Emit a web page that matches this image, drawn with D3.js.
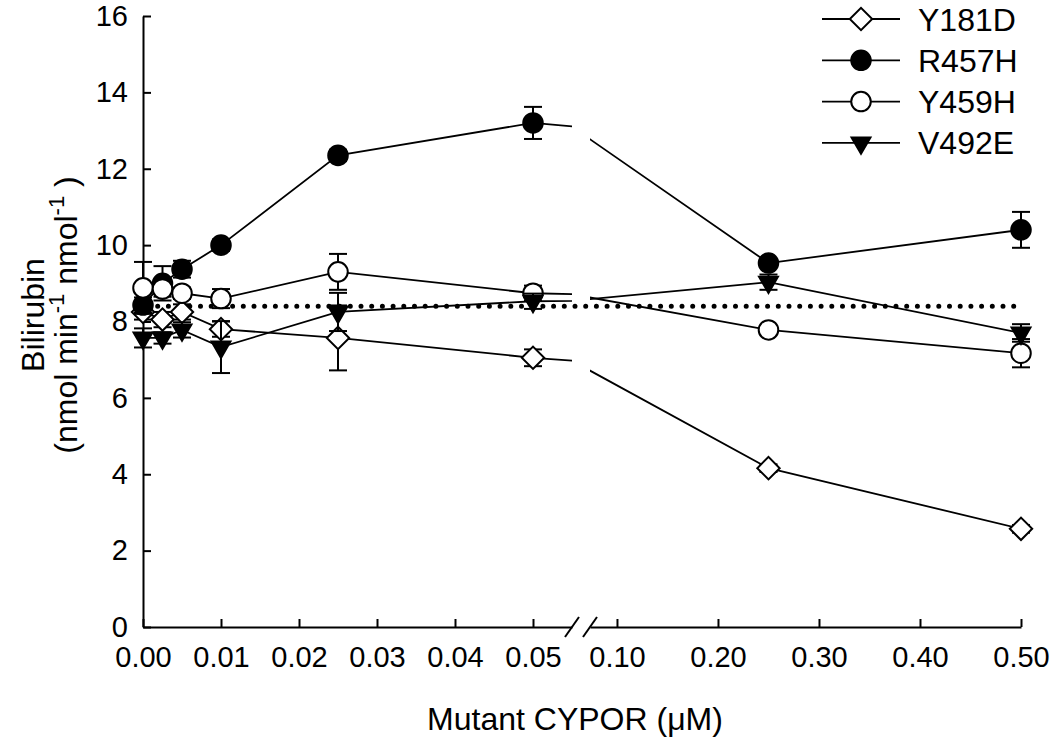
<!DOCTYPE html>
<html>
<head>
<meta charset="utf-8">
<script src="https://cdn.jsdelivr.net/npm/d3@7"></script>
<style>
  body { margin: 0; background: #fff; }
  svg { font-family: "Liberation Sans", Arial, sans-serif; }
</style>
</head>
<body>
<div id="chart"></div>
<script>
// CYPOR concentration (uM)
const conc = [0, 0.0025, 0.005, 0.01, 0.025, 0.05, 0.25, 0.5];

const y181d = [8.25, 8.05, 8.25, 7.8, 7.57, 7.05, 4.16, 2.57];
const y181dErr = [0.2, 0.2, 0.2, 0.2, 0.85, 0.22, 0.1, 0.1];
const r457h = [8.43, 9.0, 9.37, 10.0, 12.35, 13.2, 9.53, 10.4];
const r457hErr = [0.2, 0.45, 0.22, 0.15, 0.15, 0.42, 0.1, 0.47];
const y459h = [8.88, 8.85, 8.74, 8.6, 9.3, 8.74, 7.78, 7.17];
const y459hErr = [0.68, 0.2, 0.15, 0.25, 0.47, 0.2, 0.1, 0.37];
const v492e = [7.57, 7.57, 7.78, 7.33, 8.25, 8.53, 9.03, 7.7];
const v492eErr = [0.25, 0.15, 0.2, 0.68, 0.5, 0.2, 0.2, 0.23];

const controlLevel = 8.4; // dotted line

const leftTicks = [0, 0.01, 0.02, 0.03, 0.04, 0.05];
const rightTicks = [0.1, 0.2, 0.3, 0.4, 0.5];
const yTicks = [0, 2, 4, 6, 8, 10, 12, 14, 16];

const series = [
  { name: 'Y181D', vals: y181d, err: y181dErr, sym: 'diamond', fill: '#fff' },
  { name: 'R457H', vals: r457h, err: r457hErr, sym: 'circle', fill: '#000' },
  { name: 'Y459H', vals: y459h, err: y459hErr, sym: 'circle', fill: '#fff' },
  { name: 'V492E', vals: v492e, err: v492eErr, sym: 'triangle', fill: '#000' }
];

const width = 1050, height = 738;
const svg = d3.select('#chart').append('svg')
  .attr('width', width)
  .attr('height', height);

const y = d3.scaleLinear().domain([0, 16]).range([627, 16]);
const xLeft = d3.scaleLinear().domain([0, 0.055]).range([143, 572]);
const xRight = d3.scaleLinear().domain([0.0733, 0.5]).range([590, 1021]);

// two pieces of the broken x axis, each gets its own clip
const segments = [
  { id: 'clipL', x: xLeft, clipX: 0, clipW: 572 },
  { id: 'clipR', x: xRight, clipX: 590, clipW: width - 590 }
];

const defs = svg.append('defs');
segments.forEach(s => {
  defs.append('clipPath').attr('id', s.id)
    .append('rect')
    .attr('x', s.clipX).attr('y', 0)
    .attr('width', s.clipW).attr('height', height);
});

// axes
const yAxis = svg.append('g')
  .attr('transform', `translate(${xLeft(0)},0)`)
  .call(d3.axisLeft(y).tickValues(yTicks).tickSize(-8).tickSizeOuter(0).tickPadding(15));

const xAxisL = svg.append('g')
  .attr('transform', `translate(0,${y(0)})`)
  .call(d3.axisBottom(xLeft).tickValues(leftTicks).tickFormat(d3.format('.2f'))
    .tickSize(-8).tickSizeOuter(0).tickPadding(19));

const xAxisR = svg.append('g')
  .attr('transform', `translate(0,${y(0)})`)
  .call(d3.axisBottom(xRight).tickValues(rightTicks).tickFormat(d3.format('.2f'))
    .tickSize(-8).tickSizeOuter(0).tickPadding(19));

[yAxis, xAxisL, xAxisR].forEach(g => {
  g.selectAll('path, line').attr('stroke', '#000').attr('stroke-width', 2);
  g.selectAll('text').attr('font-size', 29).attr('fill', '#000')
    .attr('font-family', '"Liberation Sans", Arial, sans-serif');
});

// break marks
[xLeft.range()[1], xRight.range()[0]].forEach(bx => {
  svg.append('line')
    .attr('x1', bx - 7).attr('y1', y(0) + 10)
    .attr('x2', bx + 7).attr('y2', y(0) - 10)
    .attr('stroke', '#000').attr('stroke-width', 2);
});

// dotted control line
svg.append('line')
  .attr('x1', xLeft(0) + 4).attr('x2', xRight(0.5))
  .attr('y1', y(controlLevel)).attr('y2', y(controlLevel))
  .attr('stroke', '#000')
  .attr('stroke-width', 5)
  .attr('stroke-linecap', 'round')
  .attr('stroke-dasharray', '0,10.7');

const symbolPath = (sym) => {
  if (sym === 'circle') return d3.symbol(d3.symbolCircle, 300)();
  if (sym === 'diamond') return d3.symbol(d3.symbolSquare, 250)();
  return d3.symbol(d3.symbolTriangle, 155)();
};
const symbolRotate = (sym) => sym === 'diamond' ? 45 : (sym === 'triangle' ? 180 : 0);

series.forEach(s => {
  const pts = conc.map((c, i) => ({ c, v: s.vals[i], e: s.err[i] }));
  segments.forEach(seg => {
    const g = svg.append('g').attr('clip-path', `url(#${seg.id})`);
    const line = d3.line().x(d => seg.x(d.c)).y(d => y(d.v));

    g.append('path')
      .datum(pts)
      .attr('d', line)
      .attr('fill', 'none')
      .attr('stroke', '#000')
      .attr('stroke-width', 1.8);

    const eb = g.selectAll('.eb').data(pts).enter().append('g');
    eb.append('line')
      .attr('x1', d => seg.x(d.c)).attr('x2', d => seg.x(d.c))
      .attr('y1', d => y(d.v - d.e)).attr('y2', d => y(d.v + d.e))
      .attr('stroke', '#000').attr('stroke-width', 2);
    [-1, 1].forEach(sign => {
      eb.append('line')
        .attr('x1', d => seg.x(d.c) - 9).attr('x2', d => seg.x(d.c) + 9)
        .attr('y1', d => y(d.v + sign * d.e)).attr('y2', d => y(d.v + sign * d.e))
        .attr('stroke', '#000').attr('stroke-width', 2);
    });

    g.selectAll('.pt').data(pts).enter().append('path')
      .attr('d', symbolPath(s.sym))
      .attr('transform', d => `translate(${seg.x(d.c)},${y(d.v)}) rotate(${symbolRotate(s.sym)})`)
      .attr('fill', s.fill)
      .attr('stroke', '#000')
      .attr('stroke-width', 2);
  });
});

// legend
const legend = svg.append('g');
series.forEach((s, i) => {
  const ly = 19 + i * 41.3;
  legend.append('line')
    .attr('x1', 822).attr('x2', 900).attr('y1', ly).attr('y2', ly)
    .attr('stroke', '#000').attr('stroke-width', 1.8);
  legend.append('path')
    .attr('d', symbolPath(s.sym))
    .attr('transform', `translate(861,${ly}) rotate(${symbolRotate(s.sym)})`)
    .attr('fill', s.fill)
    .attr('stroke', '#000')
    .attr('stroke-width', 2);
  legend.append('text')
    .attr('x', 918).attr('y', ly).attr('dy', '0.36em')
    .attr('font-size', 32)
    .text(s.name);
});

// axis titles
svg.append('text')
  .attr('x', 575).attr('y', 730)
  .attr('text-anchor', 'middle')
  .attr('font-size', 32)
  .text('Mutant CYPOR (\u03BCM)');

svg.append('text')
  .attr('transform', 'translate(44,315) rotate(-90)')
  .attr('text-anchor', 'middle')
  .attr('font-size', 32)
  .text('Bilirubin');

const yt = svg.append('text')
  .attr('transform', 'translate(77,315) rotate(-90)')
  .attr('text-anchor', 'middle')
  .attr('font-size', 32);
yt.append('tspan').text('(nmol min');
yt.append('tspan').attr('font-size', 22).attr('dy', -13).text('-1');
yt.append('tspan').attr('dy', 13).text('  nmol');
yt.append('tspan').attr('font-size', 22).attr('dy', -13).text('-1');
yt.append('tspan').attr('dy', 13).text(' )');
</script>
</body>
</html>
